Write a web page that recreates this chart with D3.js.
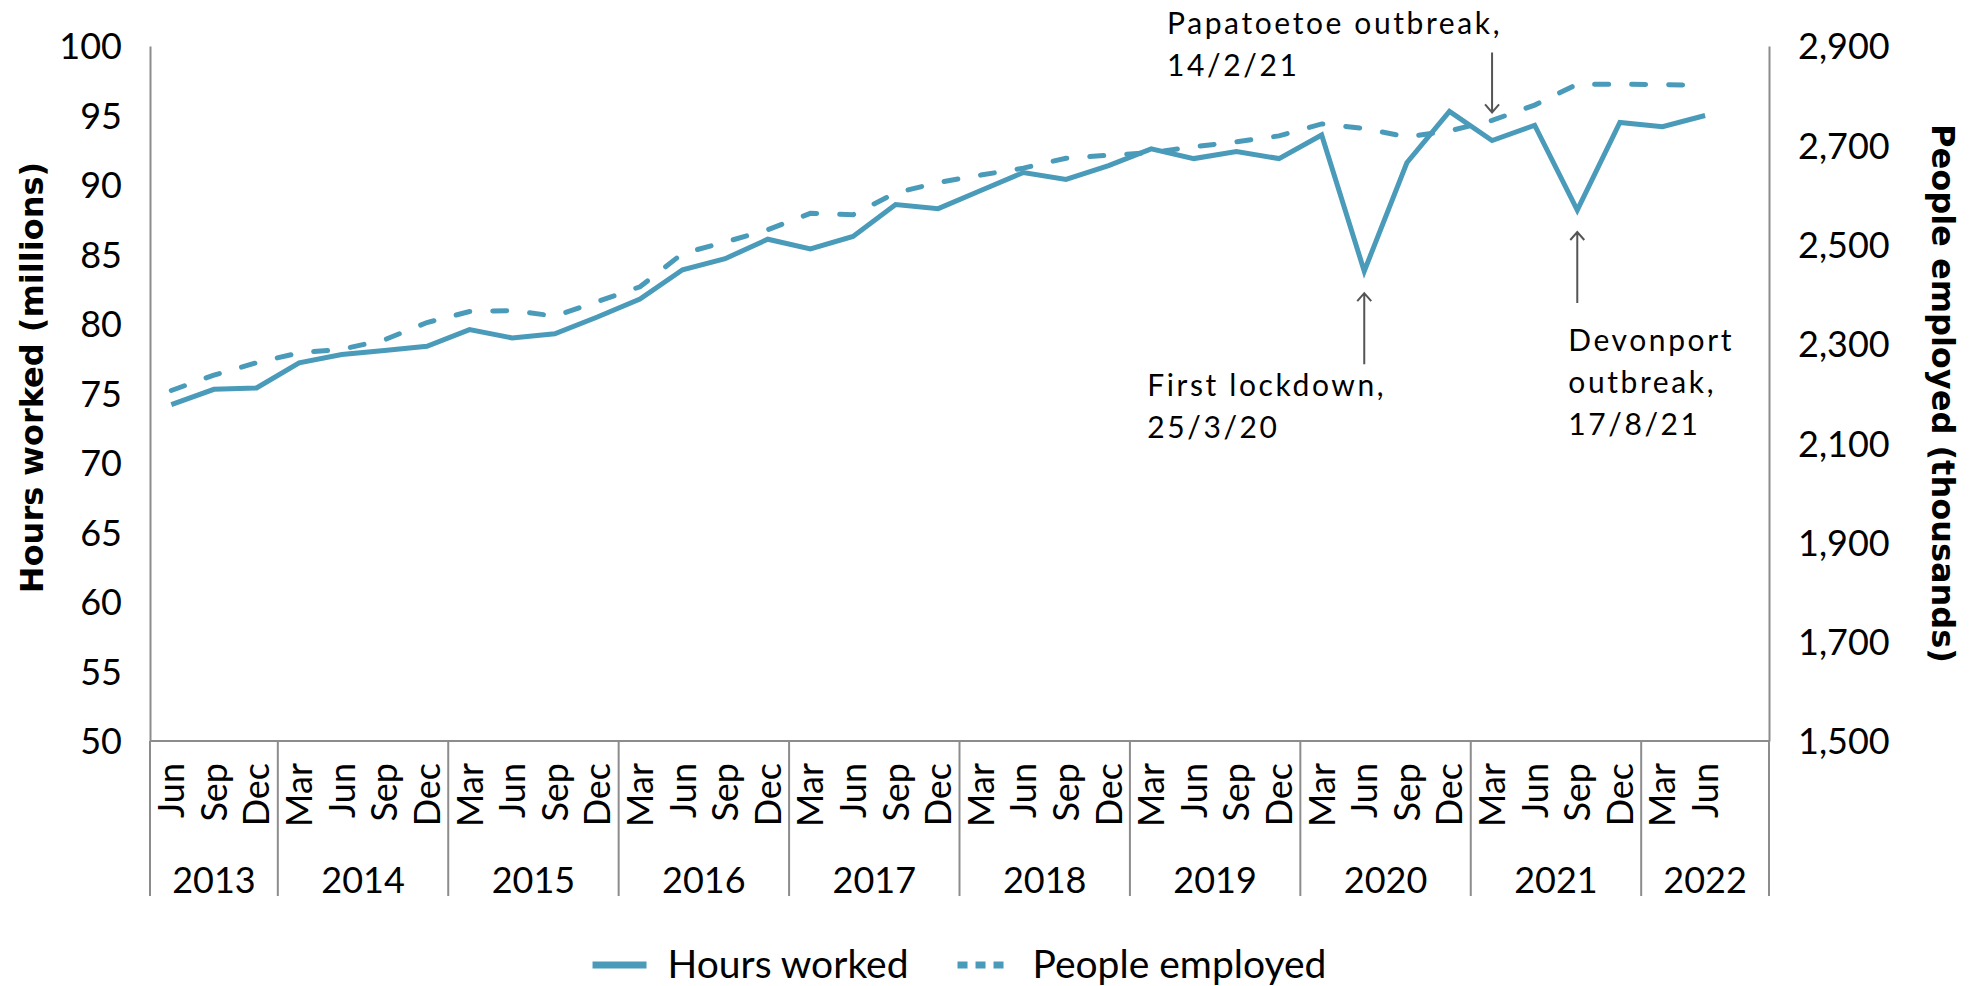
<!DOCTYPE html>
<html>
<head>
<meta charset="utf-8">
<title>Hours worked and people employed</title>
<script src="https://cdn.jsdelivr.net/npm/d3@7"></script>
<style>
  body { margin: 0; background: #fff; }
  svg { display: block; font-family: Lato, "Open Sans", sans-serif; }
  .axis path { stroke: #8c8c8c; stroke-width: 2; }
  .axis text, .tick-label { font-size: 36px; fill: #000; font-family: Lato, sans-serif; }
  .title { font-family: "DejaVu Sans", sans-serif; font-size: 32px; font-weight: 700; fill: #000; }
  .note { font-size: 30px; letter-spacing: 2.6px; fill: #000; }
  .arrow { stroke: #555; stroke-width: 2; fill: none; }
  .grid { stroke: #8c8c8c; stroke-width: 2; }
</style>
</head>
<body>
<script>
// quarter labels along the x axis (the last 2022 slot is empty in the source chart)
const months = [
  "Jun", "Sep", "Dec",
  "Mar", "Jun", "Sep", "Dec",
  "Mar", "Jun", "Sep", "Dec",
  "Mar", "Jun", "Sep", "Dec",
  "Mar", "Jun", "Sep", "Dec",
  "Mar", "Jun", "Sep", "Dec",
  "Mar", "Jun", "Sep", "Dec",
  "Mar", "Jun", "Sep", "Dec",
  "Mar", "Jun", "Sep", "Dec",
  "Mar", "Jun", ""
];

// year groups and how many quarter slots each one spans
const years = ["2013", "2014", "2015", "2016", "2017", "2018", "2019", "2020", "2021", "2022"];
const yearSlots = [3, 4, 4, 4, 4, 4, 4, 4, 4, 3];

// hours worked, millions (left axis)
const hoursWorked = [
  74.2, 75.3, 75.4,
  77.2, 77.8, 78.1, 78.4,
  79.6, 79.0, 79.3, 80.5,
  81.8, 83.9, 84.7, 86.1,
  85.4, 86.3, 88.6, 88.3,
  89.6, 90.9, 90.4, 91.4,
  92.6, 91.9, 92.4, 91.9,
  93.6, 83.8, 91.6, 95.3,
  93.2, 94.3, 88.2, 94.5,
  94.2, 95.0, null
];

// people employed, thousands (right axis)
const peopleEmployed = [
  2206, 2237, 2262,
  2282, 2289, 2308, 2343,
  2365, 2367, 2356, 2385,
  2415, 2482, 2505, 2530,
  2563, 2560, 2604, 2625,
  2640, 2654, 2674, 2680,
  2685, 2697, 2707, 2719,
  2743, 2734, 2717, 2729,
  2750, 2781, 2823, 2823,
  2822, 2821, null
];

// axis ticks
const leftTicks = [50, 55, 60, 65, 70, 75, 80, 85, 90, 95, 100];
const rightTicks = [1500, 1700, 1900, 2100, 2300, 2500, 2700, 2900];

// annotations: slot and series the arrow points at, then where the text block sits
// relative to the arrow's tail
const notes = [
  { lines: ["Papatoetoe outbreak,", "14/2/21"], slot: 31, series: "people", dir: "down", gap: -8, len: 60, dx: -325, dy: -18 },
  { lines: ["First lockdown,", "25/3/20"], slot: 28, series: "hours", dir: "up", gap: 22, len: 71, dx: -217, dy: 32 },
  { lines: ["Devonport", "outbreak,", "17/8/21"], slot: 33, series: "hours", dir: "up", gap: 22, len: 71, dx: -9, dy: 48 }
];

const COLOR = "#4a9bba";
const W = 1972, H = 986;
const margin = { left: 150, right: 203, top: 46, bottom: 245 };
const plotBottom = H - margin.bottom;

const rows = months.map((m, i) => ({ i: i, month: m, hours: hoursWorked[i], people: peopleEmployed[i] }));

const svg = d3.select("body").append("svg")
    .attr("width", W)
    .attr("height", H);

// scales
const x = d3.scaleBand()
    .domain(d3.range(months.length))
    .range([margin.left, W - margin.right]);
const bw = x.bandwidth();
const cx = i => x(i) + bw / 2;

const yLeft = d3.scaleLinear().domain([50, 100]).range([plotBottom, margin.top]);
const yRight = d3.scaleLinear().domain([1500, 2900]).range([plotBottom, margin.top]);

// left axis
svg.append("g")
    .attr("class", "axis")
    .attr("transform", `translate(${margin.left},0)`)
    .call(d3.axisLeft(yLeft).tickValues(leftTicks).tickSize(0).tickPadding(28))
    .call(g => g.selectAll(".tick text").attr("dy", "0.36em"));

// right axis
svg.append("g")
    .attr("class", "axis")
    .attr("transform", `translate(${W - margin.right},0)`)
    .call(d3.axisRight(yRight).tickValues(rightTicks).tickFormat(d3.format(",")).tickSize(0).tickPadding(29))
    .call(g => g.selectAll(".tick text").attr("dy", "0.36em"));

// bottom line and year separators
svg.append("line")
    .attr("class", "grid")
    .attr("x1", margin.left).attr("x2", W - margin.right)
    .attr("y1", plotBottom).attr("y2", plotBottom);

let starts = [];
let acc = 0;
yearSlots.forEach(n => { starts.push(acc); acc += n; });

const sepX = starts.map(s => x(s)).concat([W - margin.right]);
svg.selectAll("line.sep")
    .data(sepX)
    .enter()
    .append("line")
    .attr("class", "grid sep")
    .attr("x1", d => d).attr("x2", d => d)
    .attr("y1", plotBottom).attr("y2", plotBottom + 155);

// quarter labels, rotated
svg.selectAll("text.month")
    .data(rows.filter(d => d.month !== ""))
    .enter()
    .append("text")
    .attr("class", "tick-label month")
    .attr("text-anchor", "end")
    .attr("dy", "0.36em")
    .attr("transform", d => `translate(${cx(d.i)},${plotBottom + 22}) rotate(-90)`)
    .text(d => d.month);

// year labels
svg.selectAll("text.year")
    .data(years)
    .enter()
    .append("text")
    .attr("class", "tick-label year")
    .attr("text-anchor", "middle")
    .attr("x", (d, k) => x(starts[k]) + yearSlots[k] * bw / 2)
    .attr("y", plotBottom + 152)
    .text(d => d);

// axis titles
svg.append("text")
    .attr("class", "title")
    .attr("text-anchor", "middle")
    .attr("dy", "0.36em")
    .attr("transform", `translate(31,${(margin.top + plotBottom) / 2 - 16}) rotate(-90)`)
    .text("Hours worked (millions)");

svg.append("text")
    .attr("class", "title")
    .attr("text-anchor", "middle")
    .attr("dy", "0.36em")
    .attr("transform", `translate(1944,${(margin.top + plotBottom) / 2}) rotate(90)`)
    .text("People employed (thousands)");

// the two series
const hoursLine = d3.line()
    .defined(d => d.hours != null)
    .x(d => cx(d.i))
    .y(d => yLeft(d.hours));

const peopleLine = d3.line()
    .defined(d => d.people != null)
    .x(d => cx(d.i))
    .y(d => yRight(d.people));

svg.append("path")
    .datum(rows)
    .attr("fill", "none")
    .attr("stroke", COLOR)
    .attr("stroke-width", 5)
    .attr("stroke-linecap", "round")
    .attr("stroke-dasharray", "14,23")
    .attr("d", peopleLine);

svg.append("path")
    .datum(rows)
    .attr("fill", "none")
    .attr("stroke", COLOR)
    .attr("stroke-width", 5)
    .attr("d", hoursLine);

// annotations: arrow plus text block
notes.forEach(n => {
    const ax = cx(n.slot);
    const val = n.series === "hours" ? yLeft(hoursWorked[n.slot]) : yRight(peopleEmployed[n.slot]);
    const s = n.dir === "down" ? -1 : 1;
    const tip = val + n.gap;
    const tail = tip + s * n.len;
    const g = svg.append("g");
    g.append("path")
        .attr("class", "arrow")
        .attr("d", `M${ax},${tail}L${ax},${tip}M${ax - 7},${tip + s * 8}L${ax},${tip}L${ax + 7},${tip + s * 8}`);
    g.selectAll("text")
        .data(n.lines)
        .enter()
        .append("text")
        .attr("class", "note")
        .attr("x", ax + n.dx)
        .attr("y", (d, j) => tail + n.dy + j * 42)
        .text(d => d);
});

// legend, centred under the plot
const legend = svg.append("g");
const legendItems = [
    { label: "Hours worked", dash: null },
    { label: "People employed", dash: "10,8" }
];
const LEGEND_Y = 965;
let lx = 0;
legendItems.forEach((item, k) => {
    if (k > 0) lx += 49;
    legend.append("line")
        .attr("x1", lx).attr("x2", lx + 54)
        .attr("y1", LEGEND_Y).attr("y2", LEGEND_Y)
        .attr("stroke", COLOR)
        .attr("stroke-width", 7)
        .attr("stroke-dasharray", item.dash);
    lx += 54 + 21;
    const t = legend.append("text")
        .attr("class", "tick-label")
        .style("font-size", "39px")
        .attr("x", lx)
        .attr("y", LEGEND_Y + 13)
        .text(item.label);
    lx += t.node().getComputedTextLength();
});
legend.attr("transform", `translate(${(margin.left + W - margin.right) / 2 - lx / 2},0)`);
</script>
</body>
</html>
